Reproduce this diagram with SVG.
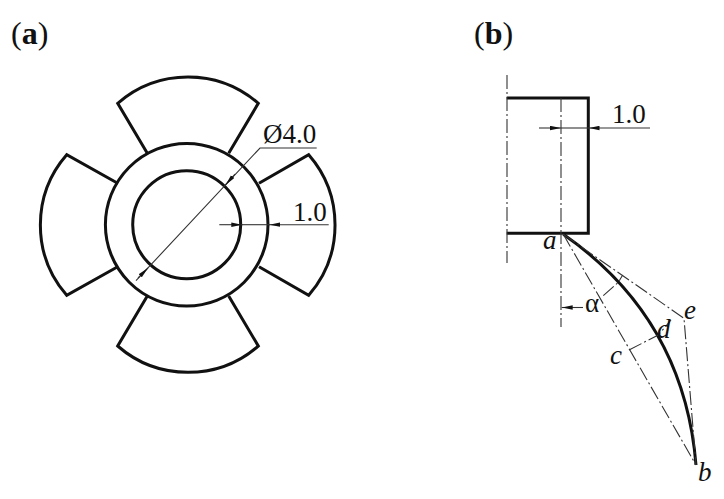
<svg xmlns="http://www.w3.org/2000/svg" width="724" height="499" viewBox="0 0 724 499">
<style>
.thick{fill:none;stroke:#111;stroke-width:3;stroke-linejoin:miter}
.thin{fill:none;stroke:#333;stroke-width:1.1}
.center{fill:none;stroke:#333;stroke-width:1.1;stroke-dasharray:14 3 2 3}
text{font-family:"Liberation Serif","Times New Roman",serif;fill:#111}
.dim{font-size:27px}
.lab{font-size:32px}
.it{font-size:27px;font-style:italic}
</style>
<defs>
<marker id="arrow" viewBox="0 0 11 5" refX="11" refY="2.5" markerWidth="11" markerHeight="5" markerUnits="userSpaceOnUse" orient="auto"><path d="M0 0.3L11 2.5L0 4.7Z" fill="#111"/></marker>
</defs>
<rect width="724" height="499" fill="#fff"/>
<g id="label-a"><text class="lab" x="11" y="44">(<tspan font-weight="bold">a</tspan>)</text></g>
<g id="label-b"><text class="lab" x="474" y="44">(<tspan font-weight="bold">b</tspan>)</text></g>
<g id="rotor">
<circle class="thick" cx="186.7" cy="224.7" r="81.3"/>
<circle class="thick" cx="186.7" cy="224.7" r="54"/>
<path class="thick" d="M147.3 153.3L117.7 103.3A107 107 0 0 1 258.3 103.3L228.7 153.3"/>
<path class="thick" d="M147.3 296L117.7 346A107 107 0 0 0 258.3 346L228.7 296"/>
<path class="thick" d="M259 183.3L308.7 154.7A107 107 0 0 1 308.7 295.3L259 266.7"/>
<path class="thick" d="M117.7 183.3L66.7 154.7A107 107 0 0 0 66.7 295.3L117.7 266.7"/>
</g>
<g id="section">
<path class="thick" d="M506.7 98H588.3V233.3H506.7"/>
<path class="thick" d="M563.3 234.3Q684 318.3 696 465"/>
</g>
<g id="connectors">
<path class="thin" d="M316.7 148H260L136 280.7"/>
<path class="thin" d="M235 174L225.5 184.9" marker-end="url(#arrow)"/>
<path class="thin" d="M138 278L148 267.9" marker-end="url(#arrow)"/>
<path class="thin" d="M219.3 224.7H242.3" marker-end="url(#arrow)"/>
<path class="thin" d="M328.7 224.7H269.3" marker-end="url(#arrow)"/>
<path class="thin" d="M242 224.7H270"/>
<path class="thin" d="M539 128H561" marker-end="url(#arrow)"/>
<path class="thin" d="M650 128H588.5" marker-end="url(#arrow)"/>
<path class="thin" d="M561 128H589"/>
<path class="thin" d="M583 307.5H561.7" marker-end="url(#arrow)"/>
<path class="center" d="M507 75V263"/>
<path class="center" d="M561 98V327"/>
<path class="center" d="M563.3 234.3L696 465"/>
<path class="center" d="M563.3 234.3L684 318.3L696 465"/>
<path class="center" d="M629 350L658.3 335L671 320"/>
<path class="center" d="M603.3 295.7L618.3 282.3L622.7 275"/>
</g>
<g id="labels">
<text class="dim" x="263" y="142.7">Ø4.0</text>
<text class="dim" x="293" y="220.7">1.0</text>
<text class="dim" x="612" y="123">1.0</text>
<text class="it" x="543" y="249">a</text>
<text class="it" x="698" y="481">b</text>
<text class="it" x="610" y="364">c</text>
<text class="it" x="657" y="338">d</text>
<text class="it" x="684" y="319">e</text>
<text class="dim" x="585" y="312">α</text>
</g>
</svg>
